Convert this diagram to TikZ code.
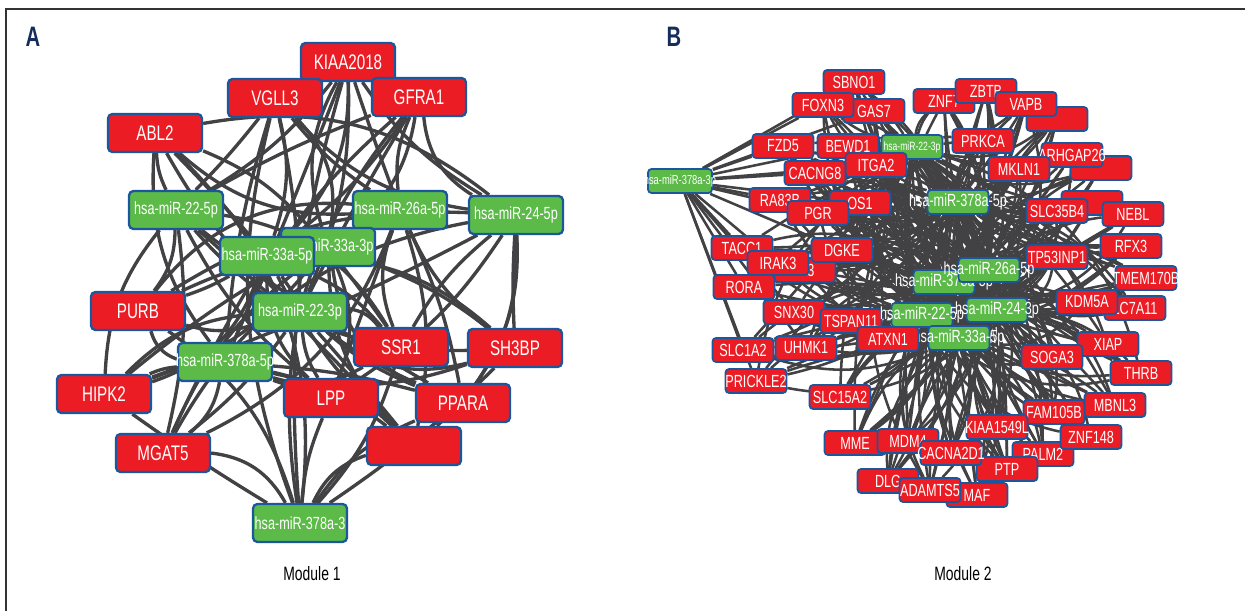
\documentclass[tikz,border=0pt]{standalone}
\usepackage{fontspec}
\setmainfont{Liberation Sans}[FakeStretch=0.72]
\usetikzlibrary{backgrounds}
\definecolor{genered}{RGB}{236,28,36}
\definecolor{mirgreen}{RGB}{92,186,72}
\definecolor{rimblue}{RGB}{28,86,156}
\definecolor{edgegray}{RGB}{66,66,68}
\definecolor{panelnavy}{RGB}{22,45,92}
\newcommand\ovl[1]{\makebox[0pt]{#1}}

\begin{document}
\begin{tikzpicture}[
        x=0.02cm, y=-0.02cm,
        gene/.style={draw=rimblue, line width=1.3pt, rounded corners=2.5pt, fill=genered, text=white, inner sep=0pt, minimum width=1.88cm, minimum height=0.76cm, font=\fontsize{12}{12}\selectfont},
        mir/.style={gene, fill=mirgreen, font=\fontsize{10}{10}\selectfont},
        geneB/.style={gene, line width=1pt, rounded corners=2pt, minimum width=1.22cm, minimum height=0.48cm, font=\fontsize{10}{10}\selectfont},
        mirB/.style={geneB, fill=mirgreen},
        link/.style={edgegray, line width=1.9pt},
        linkB/.style={edgegray, line width=1.45pt}
      ]
        \useasboundingbox (0,0) rectangle (1245,611);
        \draw[black!80, line width=0.6pt] (6,9) rectangle (1270,640);
        \node[font=\bfseries\fontsize{16}{16}\selectfont, text=panelnavy] (labA) at (33,37) {A};
        \node[font=\bfseries\fontsize{16}{16}\selectfont, text=panelnavy] (labB) at (674,37) {B};
        \node[font=\fontsize{11}{11}\selectfont] (modA) at (312,574) {Module 1};
        \node[font=\fontsize{11}{11}\selectfont] (modB) at (963,574) {Module 2};

        \node[gene] (kiaa) at (348,62) {\ovl{KIAA2018}};
        \node[gene] (vgll) at (275,98) {\ovl{VGLL3}};
        \node[gene] (gfra) at (419,97) {\ovl{GFRA1}};
        \node[gene] (abl) at (155,133) {\ovl{ABL2}};
        \node[mir] (m22f) at (176,210) {\ovl{hsa-miR-22-5p}};
        \node[mir] (m26f) at (400,210) {\ovl{hsa-miR-26a-5p}};
        \node[mir] (m24f) at (516,215) {\ovl{hsa-miR-24-5p}};
        \node[mir] (m33t) at (328,247) {\ovl{hsa-miR-33a-3p}};
        \node[mir] (m33f) at (267,256) {\ovl{hsa-miR-33a-5p}};
        \node[gene] (purb) at (138,311) {\ovl{PURB}};
        \node[mir] (m22t) at (300,312) {\ovl{hsa-miR-22-3p}};
        \node[gene] (ssr) at (401,347) {\ovl{SSR1}};
        \node[gene] (sh3bp) at (515,348) {\ovl{SH3BP}};
        \node[mir] (m378f) at (225,362) {\ovl{hsa-miR-378a-5p}};
        \node[gene] (hipk) at (104,394) {\ovl{HIPK2}};
        \node[gene] (lpp) at (331,398) {\ovl{LPP}};
        \node[gene] (ppara) at (463,403) {\ovl{PPARA}};
        \node[gene] (blankA) at (414,446) {};
        \node[gene] (mgat) at (163,453) {\ovl{MGAT5}};
        \node[mir] (m378t) at (300,523) {\ovl{hsa-miR-378a-3}};

        \node[mirB, minimum width=1.28cm, font=\fontsize{7.4}{7.4}\selectfont] (bL) at (680,181) {\ovl{hsa-miR-378a-3p}};
        \node[geneB] (bsbno) at (854,82) {\ovl{SBNO1}};
        \node[geneB] (bgas) at (874,111) {\ovl{GAS7}};
        \node[geneB] (bfoxn) at (823,105) {\ovl{FOXN3}};
        \node[geneB] (bznf) at (944,101) {\ovl{ZNF7}};
        \node[geneB] (bzbtb) at (986,91) {\ovl{ZBTB}};
        \node[geneB] (bblank1) at (1057,119) {};
        \node[geneB] (bvapb) at (1026,104) {\ovl{VAPB}};
        \node[geneB] (bfzd) at (783,146) {\ovl{FZD5}};
        \node[geneB] (bbewd) at (848,146) {\ovl{BEWD1}};
        \node[mirB, font=\fontsize{6.8}{6.8}\selectfont] (bm22t) at (912,147) {\ovl{hsa-miR-22-3p}};
        \node[geneB] (bprkca) at (983,141) {\ovl{PRKCA}};
        \node[geneB] (bitga) at (876,165) {\ovl{ITGA2}};
        \node[geneB] (bcacn) at (815,173) {\ovl{CACNG8}};
        \node[geneB] (bblank2) at (1101,168) {};
        \node[geneB] (barhg) at (1072,155) {\ovl{ARHGAP26}};
        \node[geneB] (bmkln) at (1019,169) {\ovl{MKLN1}};
        \node[geneB] (bra) at (780,200) {\ovl{RA83B}};
        \node[geneB] (bos) at (860,203) {\ovl{OS1}};
        \node[geneB] (bpgr) at (818,213) {\ovl{PGR}};
        \node[mirB] (bm378u) at (958,202) {\ovl{hsa-miR-378a-5p}};
        \node[geneB] (bblank3) at (1092,203) {};
        \node[geneB] (bslc35) at (1057,211) {\ovl{SLC35B4}};
        \node[geneB] (bnebl) at (1133,214) {\ovl{NEBL}};
        \node[geneB] (btacc) at (742,248) {\ovl{TACC1}};
        \node[geneB] (bip) at (805,270) {\ovl{IP3}};
        \node[geneB] (birak) at (778,263) {\ovl{IRAK3}};
        \node[geneB] (bdgke) at (842,250) {\ovl{DGKE}};
        \node[geneB] (brfx) at (1131,246) {\ovl{RFX3}};
        \node[geneB] (btp) at (1057,257) {\ovl{TP53INP1}};
        \node[mirB] (bm378l) at (944,282) {\ovl{hsa-miR-378a-5p}};
        \node[mirB] (bm26) at (989,270) {\ovl{hsa-miR-26a-5p}};
        \node[geneB] (btmem) at (1146,278) {\ovl{TMEM170B}};
        \node[geneB] (brora) at (744,287) {\ovl{RORA}};
        \node[geneB] (blc) at (1135,308) {\ovl{LC7A11}};
        \node[geneB] (bkdm) at (1087,302) {\ovl{KDM5A}};
        \node[geneB] (bsnx) at (794,312) {\ovl{SNX30}};
        \node[geneB] (btspan) at (851,321) {\ovl{TSPAN11}};
        \node[mirB] (bm22f) at (922,315) {\ovl{hsa-miR-22-5p}};
        \node[mirB] (bm24) at (997,310) {\ovl{hsa-miR-24-3p}};
        \node[mirB] (bm33) at (959,338) {\ovl{hsa-miR-33a-5p}};
        \node[geneB] (batxn) at (888,339) {\ovl{ATXN1}};
        \node[geneB] (buhmk) at (806,348) {\ovl{UHMK1}};
        \node[geneB] (bslc1) at (743,350) {\ovl{SLC1A2}};
        \node[geneB] (bxiap) at (1108,344) {\ovl{XIAP}};
        \node[geneB] (bsoga) at (1052,357) {\ovl{SOGA3}};
        \node[geneB] (bthrb) at (1141,373) {\ovl{THRB}};
        \node[geneB] (bprick) at (756,381) {\ovl{PRICKLE2}};
        \node[geneB] (bslc15) at (840,397) {\ovl{SLC15A2}};
        \node[geneB] (bmbnl) at (1115,405) {\ovl{MBNL3}};
        \node[geneB] (bfam) at (1054,412) {\ovl{FAM105B}};
        \node[geneB] (bkiaa) at (997,427) {\ovl{KIAA1549L}};
        \node[geneB] (bpalm) at (1043,454) {\ovl{PALM2}};
        \node[geneB] (bznfl) at (1091,437) {\ovl{ZNF148}};
        \node[geneB] (bptp) at (1007,469) {\ovl{PTP}};
        \node[geneB] (bmme) at (855,443) {\ovl{MME}};
        \node[geneB] (bmdm) at (908,441) {\ovl{MDM4}};
        \node[geneB] (bcacna) at (951,453) {\ovl{CACNA2D1}};
        \node[geneB] (bdlg) at (888,481) {\ovl{DLG}};
        \node[geneB] (bmaf) at (977,495) {\ovl{MAF}};
        \node[geneB] (badam) at (930,490) {\ovl{ADAMTS5}};

        \begin{scope}[on background layer]
          \fill[white] (0,0) rectangle (1245,611);
          \foreach \m [count=\i] in {m22f,m26f,m24f,m33t,m33f,m22t,m378f,m378t}
            \foreach \g [count=\j] in {kiaa,vgll,gfra,abl,purb,ssr,sh3bp,hipk,lpp,ppara,blankA,mgat}
              {\pgfmathtruncatemacro\bnd{mod(\i*11+\j*7,57)-28}
               \draw[link] (\m) to[bend left=\bnd] (\g);}
          \foreach \g in {bsbno,bfoxn,bgas,bfzd,bbewd,bcacn,bitga,bra,bpgr,bos,btacc,birak,bdgke,brora,bsnx,bslc1,bprick,buhmk}
            \draw[linkB] (bL) -- (\g);
          \foreach \m [count=\i] in {bm22t,bm378u,bm26,bm378l,bm24,bm22f,bm33}
            \foreach \g [count=\j] in {bsbno,bgas,bfoxn,bznf,bzbtb,bblank1,bvapb,bfzd,bbewd,bprkca,bitga,bcacn,bblank2,barhg,bmkln,bra,bos,bpgr,bblank3,bslc35,bnebl,btacc,bip,birak,bdgke,brfx,btp,btmem,brora,blc,bkdm,bsnx,btspan,batxn,buhmk,bslc1,bxiap,bsoga,bthrb,bprick,bslc15,bmbnl,bfam,bkiaa,bpalm,bznfl,bptp,bmme,bmdm,bcacna,bdlg,bmaf,badam}
              {\pgfmathtruncatemacro\bnd{mod(\i*13+\j*9,61)-30}
               \draw[linkB] (\m) to[bend left=\bnd] (\g);}
        \end{scope}
      \end{tikzpicture}
\end{document}
